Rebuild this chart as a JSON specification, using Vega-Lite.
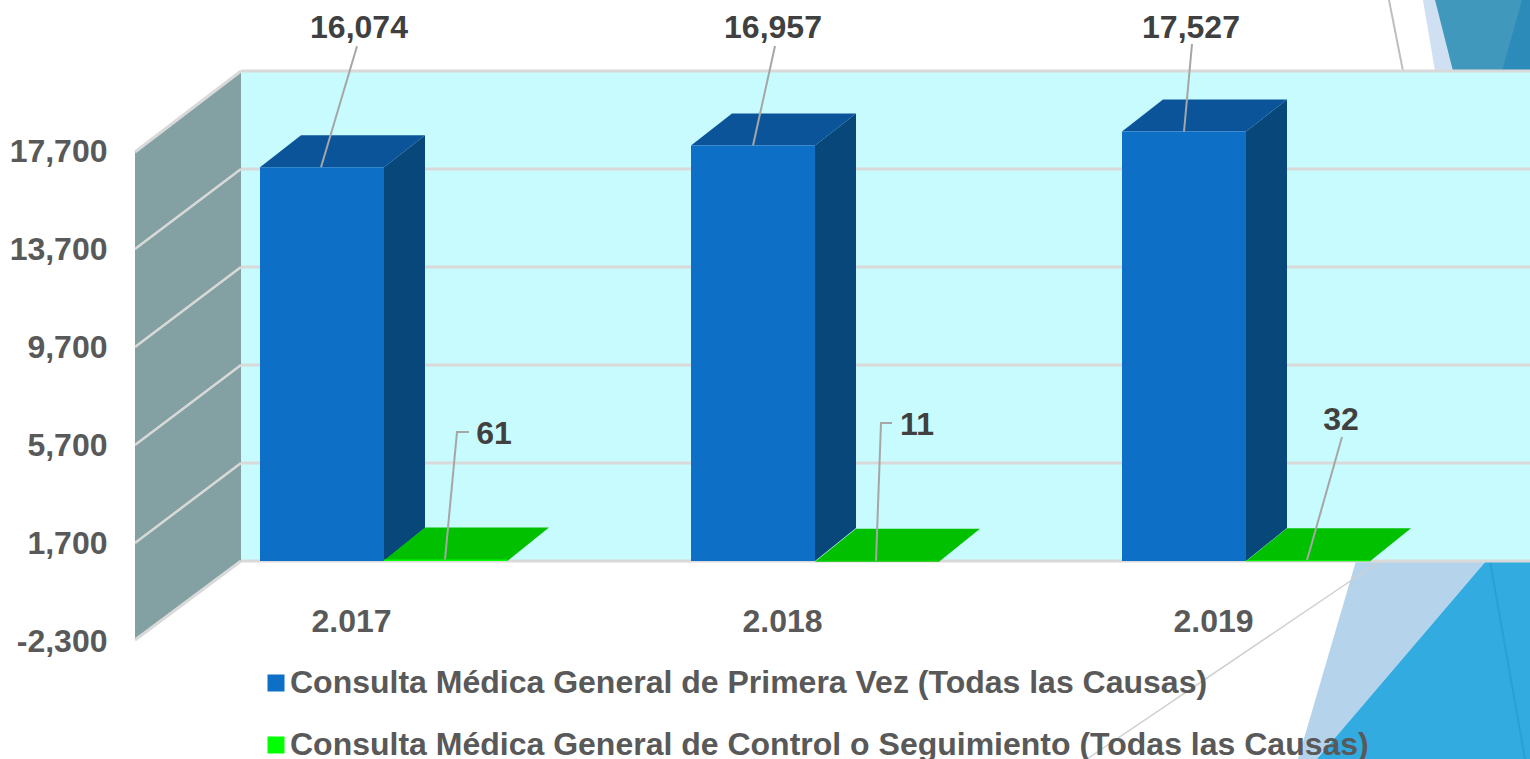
{
"$schema":"https://vega.github.io/schema/vega-lite/v6.json",
"width":1530,"height":759,"padding":0,"autosize":{"type":"none"},"background":"white",
"config":{"view":{"stroke":null},"font":"Liberation Sans"},
"datasets":{
"consultas":[
{"year":2017,"serie":"Consulta Médica General de Primera Vez (Todas las Causas)","value":16074},
{"year":2018,"serie":"Consulta Médica General de Primera Vez (Todas las Causas)","value":16957},
{"year":2019,"serie":"Consulta Médica General de Primera Vez (Todas las Causas)","value":17527},
{"year":2017,"serie":"Consulta Médica General de Control o Seguimiento (Todas las Causas)","value":61},
{"year":2018,"serie":"Consulta Médica General de Control o Seguimiento (Todas las Causas)","value":11},
{"year":2019,"serie":"Consulta Médica General de Control o Seguimiento (Todas las Causas)","value":32}
],
"ticks":[{"tick":-2300},{"tick":1700},{"tick":5700},{"tick":9700},{"tick":13700},{"tick":17700}],
"inner":[{"tick":1700},{"tick":5700},{"tick":9700},{"tick":13700}],
"one":[{"ref":1}]
},
"layer":[
{"data":{"name":"one"},"layer":[
{"mark":{"type":"point","filled":true,"size":4,"opacity":1,"strokeWidth":0,"fill":"#cfe0f2","shape":"M1423 0L1435 0L1454 71L1435 71Z"}},
{"mark":{"type":"point","filled":true,"size":4,"opacity":1,"strokeWidth":0,"fill":"#4098bc","shape":"M1435 0L1530 0L1530 71L1453 71Z"}},
{"mark":{"type":"point","filled":true,"size":4,"opacity":1,"strokeWidth":0,"fill":"#2d8bb9","shape":"M1522 0L1530 0L1530 71L1502 71Z"}},
{"mark":{"type":"point","filled":true,"size":4,"opacity":1,"strokeWidth":0,"fill":"#b6d3ec","shape":"M1356 561L1486 561L1317 759L1298 759Z"}},
{"mark":{"type":"point","filled":true,"size":4,"opacity":1,"strokeWidth":0,"fill":"#32abe0","shape":"M1486 561L1530 561L1530 759L1317 759Z"}},
{"mark":{"type":"point","filled":false,"size":4,"opacity":1,"strokeWidth":2,"stroke":"#2ba0d2","shape":"M1490 561L1525 759"}},
{"mark":{"type":"point","filled":false,"size":4,"opacity":1,"strokeWidth":2,"stroke":"#bfbfbf","shape":"M1389 0L1403 71"}},
{"mark":{"type":"point","filled":false,"size":4,"opacity":1,"strokeWidth":1.5,"stroke":"#d0d0d0","shape":"M1380 561L1087 759"}}
],"encoding":{
"x":{"datum":2016.10905,"type":"quantitative","scale":{"domain":[2016.10905,2019.65893],"nice":false,"zero":false,"padding":0},"axis":{"orient":"bottom","values":[2017,2018,2019],"title":null,"grid":false,"domain":false,"ticks":false,"offset":-153,"labelPadding":0,"labelBaseline":"top","labelOffset":-33,"labelFontSize":32,"labelFontWeight":"bold","labelColor":"#595959","labelOverlap":false,"labelFlush":false,"labelExpr":"replace(format(datum.value,','),',','.')"}},
"y":{"datum":22898,"type":"quantitative","scale":{"domain":[-8081.6,22898],"nice":false,"zero":false,"padding":0},"axis":{"orient":"left","values":[-2300,1700,5700,9700,13700,17700],"title":null,"grid":false,"domain":false,"ticks":false,"offset":-112,"labelPadding":5,"labelOffset":24.2,"labelFontSize":32,"labelFontWeight":"bold","labelColor":"#595959","labelOverlap":false,"labelFlush":false,"labelExpr":"replace(format(datum.value,','),'−','-')"}}
}},
{"data":{"name":"one"},"layer":[
{"mark":{"type":"rect","fill":"#c8fbfd"},"encoding":{"x":{"datum":2016.66821,"type":"quantitative"},"x2":{"datum":2019.65893},"y":{"datum":20000,"type":"quantitative"},"y2":{"datum":0}}},
{"mark":{"type":"point","filled":true,"size":4,"opacity":1,"strokeWidth":0,"fill":"#83a1a2","shape":"M0 0L0 490L-106 569L-106 81Z"},"encoding":{"x":{"datum":2016.66821,"type":"quantitative"},"y":{"datum":20000,"type":"quantitative"}}},
{"mark":{"type":"point","filled":false,"size":4,"opacity":1,"strokeWidth":3,"stroke":"#d9d9d9","shape":"M0 0L-106 81"},"encoding":{"x":{"datum":2016.66821,"type":"quantitative"},"y":{"datum":20000,"type":"quantitative"}}},
{"mark":{"type":"point","filled":false,"size":4,"opacity":1,"strokeWidth":3,"stroke":"#d9d9d9","shape":"M0 0L-106 79"},"encoding":{"x":{"datum":2016.66821,"type":"quantitative"},"y":{"datum":0,"type":"quantitative"}}}
]},
{"data":{"name":"ticks"},"mark":{"type":"rule","stroke":"#d9d9d9","strokeWidth":3,"yOffset":-56.35},"encoding":{"x":{"datum":2016.66821,"type":"quantitative"},"x2":{"datum":2019.65893},"y":{"field":"tick","type":"quantitative"}}},
{"data":{"name":"inner"},"mark":{"type":"point","filled":false,"size":4,"opacity":1,"strokeWidth":2.5,"stroke":"#d9d9d9","yOffset":-56.35,"shape":"M0 0L-106 80"},"encoding":{"x":{"datum":2016.66821,"type":"quantitative"},"y":{"field":"tick","type":"quantitative"}}},
{"data":{"name":"consultas"},"transform":[{"filter":"datum.value > 1000"}],"layer":[
{"mark":{"type":"bar","orient":"vertical","size":41,"xOffset":20.5,"fill":"#084779"},"encoding":{"x":{"field":"year","type":"quantitative"},"y":{"field":"value","type":"quantitative"},"y2":{"datum":1347}}},
{"mark":{"type":"point","filled":true,"size":4,"opacity":1,"strokeWidth":0,"fill":"#084779","shape":"M0 0L41 -32L41 1L0 1Z"},"encoding":{"x":{"field":"year","type":"quantitative"},"y":{"field":"value","type":"quantitative"}}},
{"mark":{"type":"point","filled":true,"size":4,"opacity":1,"strokeWidth":0,"fill":"#084779","shape":"M0 0L0 -34L41 -34L41 -33Z"},"encoding":{"x":{"field":"year","type":"quantitative"},"y":{"datum":0,"type":"quantitative"}}},
{"mark":{"type":"point","filled":true,"size":4,"opacity":1,"strokeWidth":0,"fill":"#0b5499","shape":"M-124 0L0 0L41 -32L-83 -32Z"},"encoding":{"x":{"field":"year","type":"quantitative"},"y":{"field":"value","type":"quantitative"}}},
{"mark":{"type":"bar","orient":"vertical","size":124,"xOffset":-62},"encoding":{"x":{"field":"year","type":"quantitative"},"y":{"field":"value","type":"quantitative","stack":null},"color":{"field":"serie","type":"nominal","scale":{"domain":["Consulta Médica General de Primera Vez (Todas las Causas)","Consulta Médica General de Control o Seguimiento (Todas las Causas)"],"range":["#0e6fc7","#00ff00"]},"legend":{"orient":"none","legendX":260,"legendY":667,"title":null,"symbolType":"square","symbolSize":289,"symbolStrokeWidth":0,"labelFontSize":32,"labelFontWeight":"bold","labelColor":"#595959","labelLimit":1400,"rowPadding":30,"labelOffset":-2}}}}
]},
{"data":{"name":"consultas"},"transform":[{"filter":"datum.value < 1000"}],"layer":[
{"mark":{"type":"point","filled":true,"size":4,"opacity":1,"strokeWidth":0,"fill":"#00c000","shape":"M0 1L124 1L165 -32L41 -32Z"},"encoding":{"x":{"field":"year","type":"quantitative"},"y":{"field":"value","type":"quantitative"}}},
{"mark":{"type":"bar","orient":"vertical","size":124,"xOffset":62},"encoding":{"x":{"field":"year","type":"quantitative"},"y":{"field":"value","type":"quantitative","stack":null},"color":{"field":"serie","type":"nominal"}}}
]},
{"data":{"name":"consultas"},"encoding":{"x":{"field":"year","type":"quantitative"},"y":{"field":"value","type":"quantitative"}},"layer":[
{"transform":[{"filter":"datum.value == 16074"}],"mark":{"type":"point","filled":false,"size":4,"opacity":1,"strokeWidth":2,"stroke":"#a6a6a6","shape":"M-63 0L-27 -121"}},
{"transform":[{"filter":"datum.value == 16957"}],"mark":{"type":"point","filled":false,"size":4,"opacity":1,"strokeWidth":2,"stroke":"#a6a6a6","shape":"M-62 0L-40 -99.5"}},
{"transform":[{"filter":"datum.value == 17527"}],"mark":{"type":"point","filled":false,"size":4,"opacity":1,"strokeWidth":2,"stroke":"#a6a6a6","shape":"M-62 0L-54 -87.6"}},
{"transform":[{"filter":"datum.value == 61"}],"mark":{"type":"point","filled":false,"size":4,"opacity":1,"strokeWidth":2,"stroke":"#a6a6a6","shape":"M61 0L73 -127.5L85 -127.5"}},
{"transform":[{"filter":"datum.value == 11"}],"mark":{"type":"point","filled":false,"size":4,"opacity":1,"strokeWidth":2,"stroke":"#a6a6a6","shape":"M61 0L66 -137.7L77 -137.7"}},
{"transform":[{"filter":"datum.value == 32"}],"mark":{"type":"point","filled":false,"size":4,"opacity":1,"strokeWidth":2,"stroke":"#a6a6a6","shape":"M61 0L96 -123.2"}},
{"transform":[{"filter":"datum.value == 16074"}],"mark":{"type":"text","font":"Liberation Sans","fontSize":32,"fontWeight":"bold","fill":"#404040","xOffset":-25,"yOffset":-139},"encoding":{"text":{"field":"value","type":"quantitative","format":","}}},
{"transform":[{"filter":"datum.value == 16957"}],"mark":{"type":"text","font":"Liberation Sans","fontSize":32,"fontWeight":"bold","fill":"#404040","xOffset":-42,"yOffset":-117.5},"encoding":{"text":{"field":"value","type":"quantitative","format":","}}},
{"transform":[{"filter":"datum.value == 17527"}],"mark":{"type":"text","font":"Liberation Sans","fontSize":32,"fontWeight":"bold","fill":"#404040","xOffset":-55,"yOffset":-103.6},"encoding":{"text":{"field":"value","type":"quantitative","format":","}}},
{"transform":[{"filter":"datum.value == 61"}],"mark":{"type":"text","font":"Liberation Sans","fontSize":32,"fontWeight":"bold","fill":"#404040","xOffset":110,"yOffset":-125.5},"encoding":{"text":{"field":"value","type":"quantitative","format":","}}},
{"transform":[{"filter":"datum.value == 11"}],"mark":{"type":"text","font":"Liberation Sans","fontSize":32,"fontWeight":"bold","fill":"#404040","xOffset":102,"yOffset":-135.7},"encoding":{"text":{"field":"value","type":"quantitative","format":","}}},
{"transform":[{"filter":"datum.value == 32"}],"mark":{"type":"text","font":"Liberation Sans","fontSize":32,"fontWeight":"bold","fill":"#404040","xOffset":95,"yOffset":-140.2},"encoding":{"text":{"field":"value","type":"quantitative","format":","}}}
]}
]
}
